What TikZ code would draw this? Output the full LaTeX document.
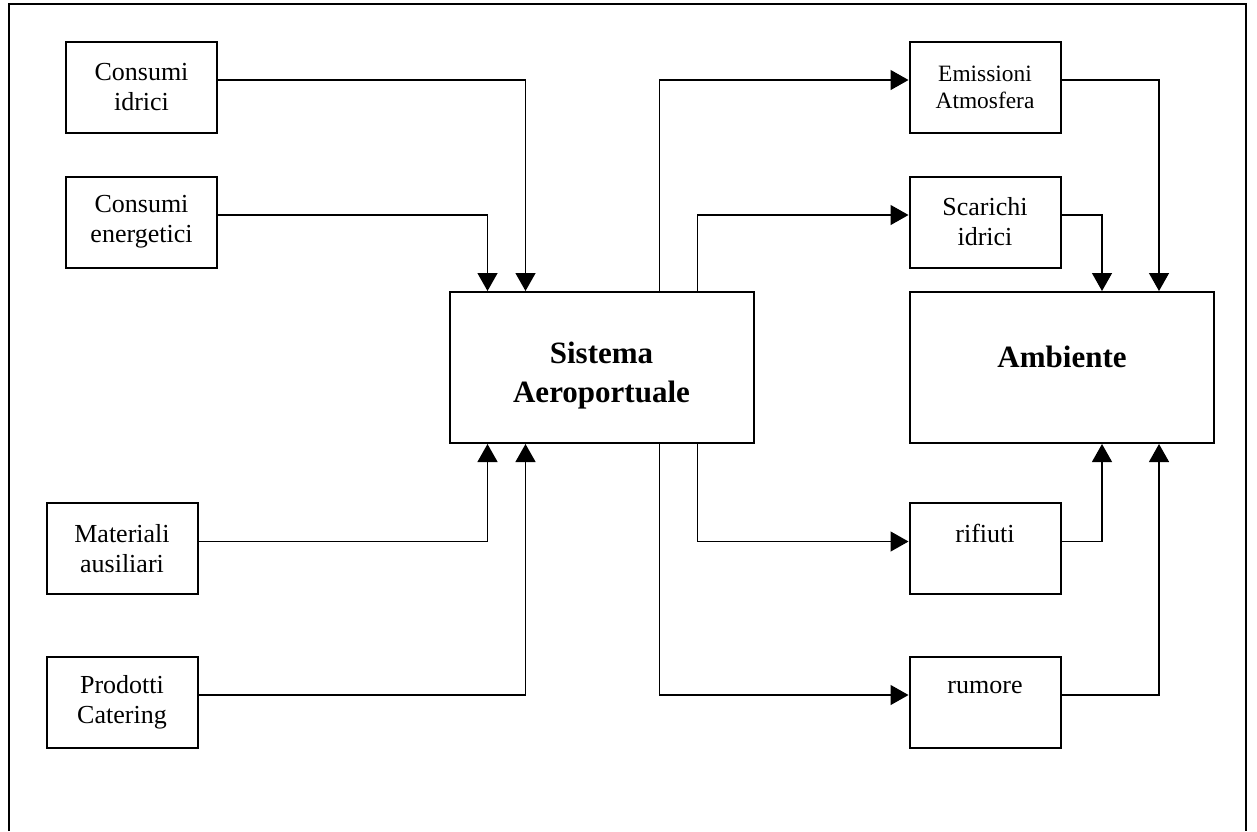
\documentclass[tikz,border=0pt]{standalone}
\usepackage{fontspec}
\setmainfont{Liberation Serif}
\usetikzlibrary{arrows.meta,calc}
\begin{document}
\begin{tikzpicture}[x=0.5pt,y=-0.5pt,
  smallbox/.style={draw,line width=1pt,inner sep=0pt,align=center,
    font=\fontsize{13}{15}\selectfont,minimum width=75.5pt,minimum height=45.5pt},
  bigbox/.style={draw,line width=1pt,minimum width=152pt,minimum height=75.5pt,inner sep=0pt},
  bigtxt/.style={font=\fontsize{15.5}{19.5}\selectfont\bfseries,align=center,inner sep=0pt},
  arr/.style={line width=0.65pt,-{Triangle[length=9pt,width=10pt]}},
  frameline/.style={line width=1pt}]
\useasboundingbox (0,0) rectangle (1257,831);
\draw[frameline] (8.5,831) -- (8.5,3.5) -- (1246,3.5) -- (1246,831);

\node[smallbox] (ci) at (141.5,87.5) {Consumi\\idrici};
\node[smallbox] (ce) at (141.5,222) {Consumi\\energetici};
\node[smallbox] (ma) at (122,548.5) {Materiali\\ausiliari};
\node[smallbox] (pc) at (122,702.5) {Prodotti\\Catering};
\node[smallbox,font=\fontsize{11.7}{13.5}\selectfont] (em) at (985,87.5) {Emissioni\\Atmosfera};
\node[smallbox] (sc) at (985,222) {Scarichi\\idrici};
\node[smallbox] (ri) at (985,548.5) {rifiuti\\\mbox{}};
\node[smallbox] (ru) at (985,702.5) {rumore\\\mbox{}};

\node[bigbox] (sis) at (601.5,367.5) {};
\node[bigtxt] (sist) at (601.5,375.5) {Sistema\\Aeroportuale};
\node[bigbox] (amb) at (1062,367.5) {};
\node[bigtxt] (ambt) at (1062,356.5) {Ambiente};

\draw[arr] ($(ci.east)+(0,-7.5)$) -| ($(sis.north west)+(77,0)$);
\draw[arr] ($(ce.east)+(0,-7)$) -| ($(sis.north west)+(39,0)$);
\draw[arr] ($(ma.east)+(0,-7)$) -| ($(sis.south west)+(39,0)$);
\draw[arr] ($(pc.east)+(0,-7.5)$) -| ($(sis.south west)+(77,0)$);
\draw[arr] ($(sis.north west)+(211,0)$) |- ($(em.west)+(0,-7.5)$);
\draw[arr] ($(sis.north west)+(249,0)$) |- ($(sc.west)+(0,-7)$);
\draw[arr] ($(sis.south west)+(249,0)$) |- ($(ri.west)+(0,-7)$);
\draw[arr] ($(sis.south west)+(211,0)$) |- ($(ru.west)+(0,-7.5)$);
\draw[arr] ($(em.east)+(0,-7.5)$) -| ($(amb.north west)+(250,0)$);
\draw[arr] ($(sc.east)+(0,-7)$) -| ($(amb.north west)+(193,0)$);
\draw[arr] ($(ri.east)+(0,-7)$) -| ($(amb.south west)+(193,0)$);
\draw[arr] ($(ru.east)+(0,-7.5)$) -| ($(amb.south west)+(250,0)$);
\end{tikzpicture}
\end{document}
